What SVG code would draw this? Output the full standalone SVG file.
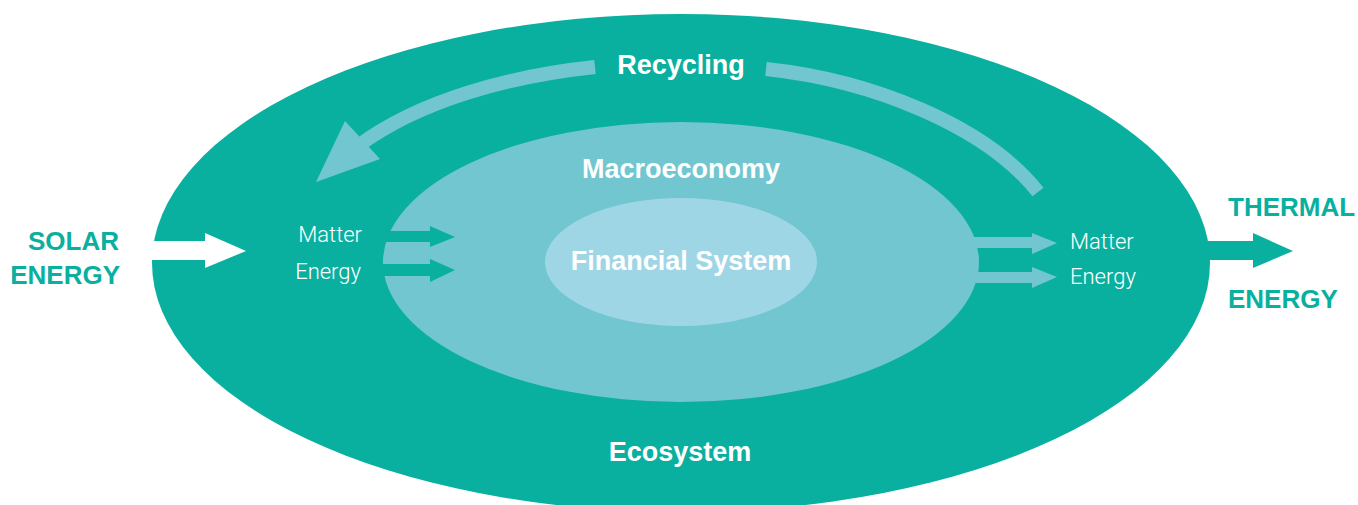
<svg xmlns="http://www.w3.org/2000/svg" width="1358" height="505" viewBox="0 0 1358 505">
<style>
.bold{font-family:"Liberation Sans",Arial,Helvetica,sans-serif;font-weight:bold;font-size:26px}
.title{font-size:27px}
.white{fill:#ffffff}
.teal{fill:#0AB09F}
.light{font-family:Roboto,"Liberation Sans",Arial,sans-serif;font-weight:300;font-size:22px;fill:#ffffff}
</style>
<rect width="1358" height="505" fill="#ffffff"/>
<g id="ecosystem">
<ellipse cx="681" cy="263" rx="529" ry="249" fill="#0AB09F"/>
<text class="bold title white" x="680" y="461" text-anchor="middle">Ecosystem</text>
</g>
<g id="macroeconomy">
<ellipse cx="681" cy="262" rx="298" ry="140" fill="#72C6CF"/>
<text class="bold title white" x="681" y="178" text-anchor="middle">Macroeconomy</text>
</g>
<g id="financial-system">
<ellipse cx="681" cy="262" rx="136" ry="64" fill="#9FD6E6"/>
<text class="bold title white" x="681" y="270" text-anchor="middle">Financial System</text>
</g>
<g id="solar-energy">
<text class="bold teal" x="119" y="250" text-anchor="end">SOLAR</text>
<text class="bold teal" x="120" y="284" text-anchor="end">ENERGY</text>
</g>
<g id="thermal-energy">
<text class="bold teal" x="1228" y="216">THERMAL</text>
<text class="bold teal" x="1228" y="308">ENERGY</text>
</g>
<g id="inputs">
<text class="light" x="362" y="242" text-anchor="end">Matter</text>
<text class="light" x="361" y="279" text-anchor="end">Energy</text>
</g>
<g id="outputs">
<text class="light" x="1070" y="249">Matter</text>
<text class="light" x="1070" y="284">Energy</text>
</g>
<g id="recycling-label">
<text class="bold title white" x="681" y="74" text-anchor="middle">Recycling</text>
</g>
<g id="connectors">
<polygon fill="#ffffff" points="140,241 205,241 205,233 246,251 205,268 205,260 140,260"/>
<polygon fill="#0AB09F" points="370,231 430,231 430,226 455,237 430,247 430,242 370,242"/>
<polygon fill="#0AB09F" points="370,264 430,264 430,259 455,270 430,282 430,276 370,276"/>
<polygon fill="#72C6CF" points="970,237 1032,237 1032,233 1057,243 1032,254 1032,248 970,248"/>
<polygon fill="#72C6CF" points="970,272 1032,272 1032,267 1057,277 1032,288 1032,283 970,283"/>
<polygon fill="#0AB09F" points="1190,241 1253,241 1253,233 1293,251 1253,268 1253,260 1190,260"/>
<path d="M595,67 C510,76 420,100 358,146" fill="none" stroke="#72C6CF" stroke-width="14"/>
<polygon fill="#72C6CF" points="345,121 316,182 380,159"/>
<path d="M766,69 C870,80 985,125 1038,192" fill="none" stroke="#72C6CF" stroke-width="14"/>
</g>
</svg>
